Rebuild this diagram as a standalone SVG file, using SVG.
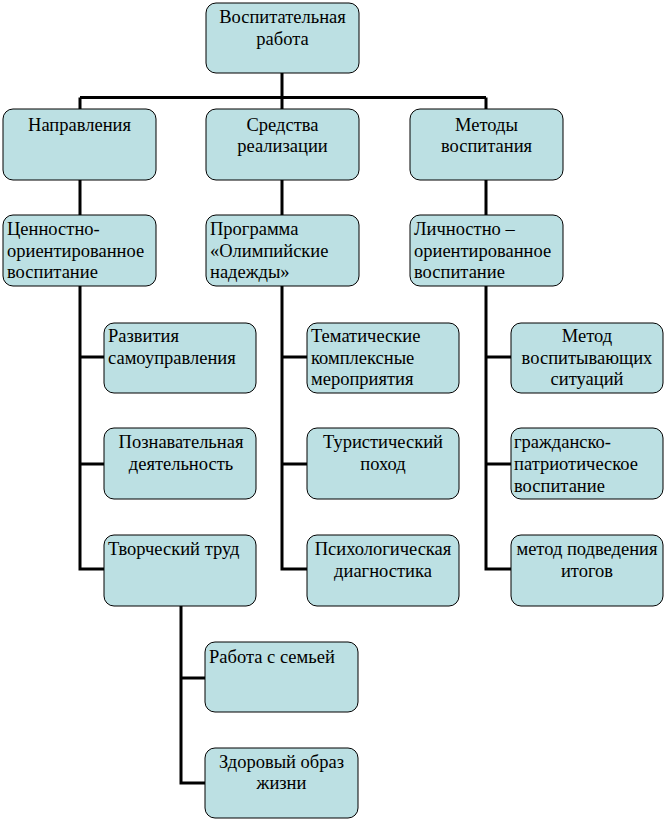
<svg xmlns="http://www.w3.org/2000/svg" width="666" height="822" viewBox="0 0 666 822">
<style>
.box{fill:#BCE0E3;stroke:#000;stroke-width:1}
.c{text-anchor:middle}
.ln{fill:none;stroke:#000;stroke-width:3}
</style>
<rect width="666" height="822" fill="#fff"/>
<g id="connectors">
<path class="ln" d="M282,73V97.5M80,97.5H486M80,97.5V109M282,97.5V109M486,97.5V109"/>
<path class="ln" d="M80,180V215M282,180V215M486,180V215"/>
<path class="ln" d="M80,286V569H104M80,357H104M80,464H104"/>
<path class="ln" d="M282,286V569H307M282,357H307M282,464H307"/>
<path class="ln" d="M486,286V569H511M486,357H511M486,464H511"/>
<path class="ln" d="M181,606V783H205M181,678H205"/>
</g>
<g font-family="Liberation Serif, DejaVu Serif, serif" font-size="18.5" fill="#000">
<g id="n-root"><rect class="box" x="206" y="3" width="153" height="70" rx="10"/>
<text class="c" x="282.5" y="23">Воспитательная</text><text class="c" x="282.5" y="45">работа</text></g>
<g id="n-napr"><rect class="box" x="3" y="109" width="153" height="71" rx="10"/>
<text class="c" x="79.5" y="131">Направления</text></g>
<g id="n-sredstva"><rect class="box" x="206" y="109" width="153" height="71" rx="10"/>
<text class="c" x="282.5" y="131">Средства</text><text class="c" x="282.5" y="152">реализации</text></g>
<g id="n-metody"><rect class="box" x="410" y="109" width="153" height="71" rx="10"/>
<text class="c" x="486.5" y="131">Методы</text><text class="c" x="486.5" y="152">воспитания</text></g>
<g id="n-cennost"><rect class="box" x="3" y="215" width="153" height="71" rx="10"/>
<text x="7" y="235">Ценностно-</text><text x="7" y="257">ориентированное</text><text x="7" y="278">воспитание</text></g>
<g id="n-programma"><rect class="box" x="206" y="215" width="153" height="71" rx="10"/>
<text x="210" y="235">Программа</text><text x="210" y="257">«Олимпийские</text><text x="210" y="278">надежды»</text></g>
<g id="n-lichnost"><rect class="box" x="410" y="215" width="153" height="71" rx="10"/>
<text x="414" y="235">Личностно –</text><text x="414" y="257">ориентированное</text><text x="414" y="278">воспитание</text></g>
<g id="n-razvitie"><rect class="box" x="104" y="323" width="152" height="70" rx="10"/>
<text x="108" y="342">Развития</text><text x="108" y="364">самоуправления</text></g>
<g id="n-poznav"><rect class="box" x="104" y="428" width="152" height="71" rx="10"/>
<text class="c" x="181" y="448">Познавательная</text><text class="c" x="181" y="470">деятельность</text></g>
<g id="n-tvorch"><rect class="box" x="104" y="535" width="152" height="71" rx="10"/>
<text x="108" y="555">Творческий труд</text></g>
<g id="n-temat"><rect class="box" x="307" y="323" width="152" height="70" rx="10"/>
<text x="311" y="342">Тематические</text><text x="311" y="364">комплексные</text><text x="311" y="385">мероприятия</text></g>
<g id="n-turist"><rect class="box" x="307" y="428" width="152" height="71" rx="10"/>
<text class="c" x="383" y="448">Туристический</text><text class="c" x="383" y="470">поход</text></g>
<g id="n-psych"><rect class="box" x="307" y="535" width="152" height="71" rx="10"/>
<text class="c" x="383" y="555">Психологическая</text><text class="c" x="383" y="577">диагностика</text></g>
<g id="n-metod"><rect class="box" x="511" y="323" width="152" height="70" rx="10"/>
<text class="c" x="587" y="342">Метод</text><text class="c" x="587" y="364">воспитывающих</text><text class="c" x="587" y="385">ситуаций</text></g>
<g id="n-grazhd"><rect class="box" x="511" y="428" width="152" height="71" rx="10"/>
<text x="514" y="448">гражданско-</text><text x="514" y="470">патриотическое</text><text x="514" y="492">воспитание</text></g>
<g id="n-itogi"><rect class="box" x="511" y="535" width="152" height="71" rx="10"/>
<text class="c" x="587" y="555">метод подведения</text><text class="c" x="587" y="577">итогов</text></g>
<g id="n-semya"><rect class="box" x="205" y="642" width="153" height="70" rx="10"/>
<text x="209" y="663">Работа с семьей</text></g>
<g id="n-zozh"><rect class="box" x="205" y="748" width="153" height="70" rx="10"/>
<text class="c" x="281.5" y="768">Здоровый образ</text><text class="c" x="281.5" y="789">жизни</text></g>
</g>
</svg>
